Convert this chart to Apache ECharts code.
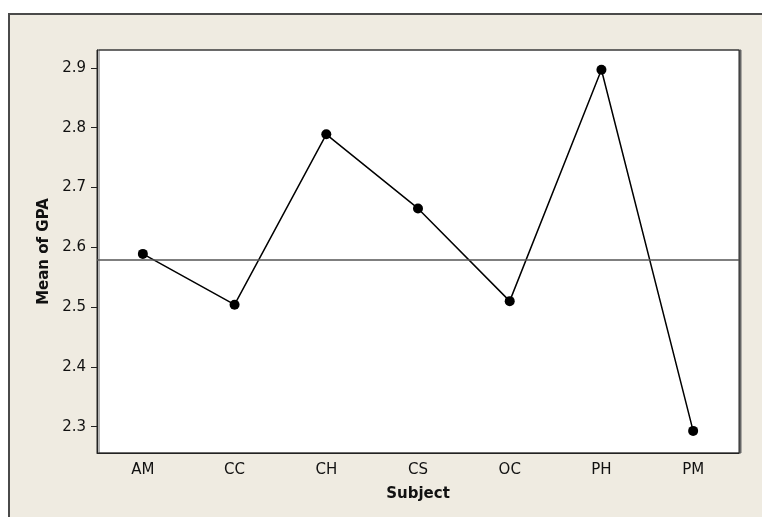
<!DOCTYPE html>
<html>
<head>
    <meta charset="utf-8">
    <script src="https://cdn.jsdelivr.net/npm/echarts@6/dist/echarts.min.js"></script>
    <style>
        body { margin: 0; background: #ffffff; }
        #frame {
            position: absolute; left: 8px; top: 13px; right: 0; bottom: 0;
            background: #efebe1;
            border-top: 2px solid #4a4a4a;
            border-left: 2px solid #4a4a4a;
        }
        #main { position: absolute; left: 0; top: 0; width: 762px; height: 517px; }
    </style>
</head>
<body>
    <div id="frame"></div>
    <div id="main"></div>
    <script type="text/javascript">
        // data
        var subjects = ['AM', 'CC', 'CH', 'CS', 'OC', 'PH', 'PM'];
        var meanGpa = [2.589, 2.504, 2.789, 2.665, 2.510, 2.897, 2.293];
        var grandMean = 2.578;
        var yTicks = [2.3, 2.4, 2.5, 2.6, 2.7, 2.8, 2.9];

        var font = 'DejaVu Sans';

        var option = {
            backgroundColor: 'transparent',
            animation: false,
            grid: {
                left: 97,
                right: 23,
                top: 50,
                bottom: 64,
                show: true,
                backgroundColor: '#ffffff',
                borderColor: '#222',
                borderWidth: 1,
                shadowColor: '#666',
                shadowOffsetX: 2,
                shadowOffsetY: 0,
                shadowBlur: 0
            },
            xAxis: {
                type: 'category',
                data: subjects,
                boundaryGap: true,
                name: 'Subject',
                nameLocation: 'middle',
                nameGap: 34,
                nameTextStyle: { fontFamily: font, fontWeight: 'bold', fontSize: 15, color: '#111' },
                axisLine: { lineStyle: { color: '#222', width: 1 } },
                axisTick: { alignWithLabel: true, length: 5, lineStyle: { color: '#222' } },
                axisLabel: { fontFamily: font, fontSize: 15, color: '#111', margin: 10 },
                splitLine: { show: false }
            },
            yAxis: {
                type: 'value',
                min: 2.256,
                max: 2.930,
                name: 'Mean of GPA',
                nameLocation: 'middle',
                nameGap: 45,
                nameTextStyle: { fontFamily: font, fontWeight: 'bold', fontSize: 15, color: '#111' },
                axisLine: { show: true, lineStyle: { color: '#222', width: 1 } },
                axisTick: { show: true, length: 6, customValues: yTicks, lineStyle: { color: '#222' } },
                axisLabel: {
                    fontFamily: font, fontSize: 15, color: '#111', margin: 11,
                    customValues: yTicks,
                    formatter: function (v) { return v.toFixed(1); }
                },
                splitLine: { show: false }
            },
            series: [{
                name: 'Mean of GPA',
                type: 'line',
                data: meanGpa,
                symbol: 'circle',
                symbolSize: 10,
                itemStyle: { color: '#000' },
                lineStyle: { color: '#000', width: 1.5 },
                markLine: {
                    silent: true,
                    symbol: 'none',
                    label: { show: false },
                    lineStyle: { color: '#555', width: 1.5, type: 'solid' },
                    data: [{ yAxis: grandMean }]
                }
            }]
        };

        var myChart = echarts.init(document.getElementById('main'));
        myChart.setOption(option);
    </script>
</body>
</html>
